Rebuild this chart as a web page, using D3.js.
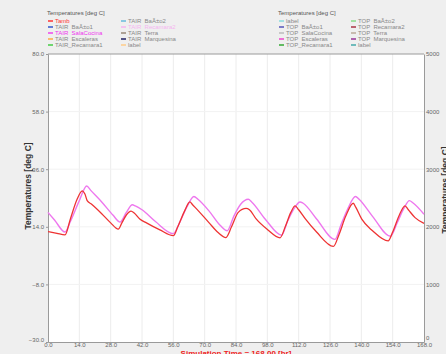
<!DOCTYPE html>
<html>
<head>
<meta charset="utf-8">
<script src="https://cdnjs.cloudflare.com/ajax/libs/d3/7.8.5/d3.min.js"></script>
<style>
  html, body { margin: 0; padding: 0; background: #efefef; }
  svg { display: block; font-family: "Liberation Sans", Arial, sans-serif; }
</style>
</head>
<body>
<div id="chart"></div>
<script>
// Data
var xTicks = [0, 14, 28, 42, 56, 70, 84, 98, 112, 126, 140, 154, 168];
var yTicks = [-30, -8, 14, 36, 58, 80];
var y2Ticks = [0, 1000, 2000, 3000, 4000, 5000];

// Tamb (red)
var tambHours = [0, 4, 7.6, 10, 13, 15.3, 16.5, 17.5, 19.5, 24, 28, 31.4, 33, 35, 37.1, 38.5, 41, 44, 50, 56,
  58, 61, 63.4, 64.5, 67.2, 72, 76, 79.5, 82, 85, 88.5, 90, 93, 98, 103.7, 106, 108.5, 110.4, 112, 115, 120, 127.5,
  130, 133, 136.4, 137.5, 140.2, 145, 152, 154, 157, 159.5, 161, 164, 168];
var tambValues = [12.2, 11.5, 10.9, 17, 24.5, 27.7, 26.5, 24, 22.6, 19, 15.5, 13.1, 15.5, 18.5, 20.0, 19.3, 17, 15.5, 12.8, 10.6,
  14, 20, 23.5, 22.5, 20.1, 15.5, 11.8, 9.9, 14, 19.5, 21, 20.5, 17, 13, 9.8, 14, 19.5, 22, 20.5, 17, 12, 6.5,
  11, 18, 23, 21.5, 16.9, 12.5, 8.6, 12, 18.5, 22, 20.5, 17.5, 15.3];

// TAIR SalaCocina (magenta)
var salaHours = [0, 3, 7.6, 10, 14, 17.3, 19, 24, 29, 32.2, 35, 37.7, 39, 42, 48, 56, 59, 62, 65.2, 67, 72, 77, 80.1,
  83, 86, 89.5, 91, 97, 104.4, 107, 110, 112.6, 114, 120, 128.2, 131, 134, 137.4, 139, 145, 153, 156, 159, 161.5, 163, 168];
var salaValues = [19.5, 16.5, 12, 16, 24, 29.6, 28, 23.5, 18.5, 15.8, 19.5, 22.4, 22, 20.5, 16, 11.4, 16, 21.5, 25.6, 24.5, 20, 14.5, 12.5,
  18, 22.5, 24.5, 23.5, 17, 10.8, 16, 21, 23.5, 23, 17, 9.2, 15, 21, 25.6, 24.5, 18, 10.4, 15.5, 21, 24, 23.2, 18.8];

// legend blocks: names and swatch colours
var leftNames1 = ["Tamb", "TAIR  BaÃ±o1", "TAIR  SalaCocina", "TAIR  Escaleras", "TAIR_Recamara1"];
var leftColors1 = ["#ff3333", "#3355cc", "#ee44ee", "#ffaa44", "#44cc44"];
var leftNames2 = ["TAIR  BaÃ±o2", "TAIR  Recamara2", "TAIR  Terra", "TAIR  Marquesina", "label"];
var leftColors2 = ["#66bbdd", "#f5b5f0", "#998877", "#222266", "#ffcc88"];
var rightNames1 = ["label", "TOP  BaÃ±o1", "TOP  SalaCocina", "TOP  Escaleras", "TOP_Recamara1"];
var rightColors1 = ["#88dddd", "#5555bb", "#bbbbbb", "#ee44cc", "#33aa33"];
var rightNames2 = ["TOP  BaÃ±o2", "TOP  Recamara2", "TOP  Terra", "TOP  Marquesina", "label"];
var rightColors2 = ["#88dd88", "#aa3344", "#bbaa99", "#993399", "#44aaaa"];

var W = 446, H = 354;
var m = {left: 48, right: 424, top: 54, bottom: 342};

var svg = d3.select("#chart").append("svg")
  .attr("width", W).attr("height", H);

svg.append("rect").attr("width", W).attr("height", H).attr("fill", "#efefef");

var x = d3.scaleLinear().domain([0, 168]).range([m.left, m.right]);
var y = d3.scaleLinear().domain([-30, 80]).range([m.bottom, m.top]);
var y2 = d3.scaleLinear().domain([0, 5000]).range([m.bottom, m.top]);

// plot area
svg.append("rect")
  .attr("x", m.left).attr("y", m.top)
  .attr("width", m.right - m.left).attr("height", m.bottom - m.top)
  .attr("fill", "#ffffff");

// grid
svg.append("g").selectAll("line").data(xTicks.slice(1, -1)).enter().append("line")
  .attr("x1", function(d) { return x(d); }).attr("x2", function(d) { return x(d); })
  .attr("y1", m.top).attr("y2", m.bottom)
  .attr("stroke", "#ececec").attr("stroke-width", 1);
svg.append("g").selectAll("line").data(yTicks.slice(1, -1)).enter().append("line")
  .attr("y1", function(d) { return y(d); }).attr("y2", function(d) { return y(d); })
  .attr("x1", m.left).attr("x2", m.right)
  .attr("stroke", "#f2f2f2").attr("stroke-width", 1);

// axes
var fmt = d3.format(".1f");
var gx = svg.append("g").attr("transform", "translate(0," + m.bottom + ")")
  .call(d3.axisBottom(x).tickValues(xTicks).tickFormat(fmt).tickSize(0).tickPadding(1));
var gy = svg.append("g").attr("transform", "translate(" + m.left + ",0)")
  .call(d3.axisLeft(y).tickValues(yTicks).tickFormat(fmt).tickSize(2).tickPadding(2));
var gy2 = svg.append("g").attr("transform", "translate(" + m.right + ",0)")
  .call(d3.axisRight(y2).tickValues(y2Ticks).tickFormat(d3.format("d")).tickSize(0).tickPadding(2));

[gx, gy, gy2].forEach(function(g) {
  g.select(".domain").attr("stroke", "#9a9a9a");
  g.selectAll(".tick line").attr("stroke", "#9a9a9a");
  g.selectAll("text").attr("fill", "#666").style("font-size", "6px");
});
// bottom labels are nudged up so they do not collide with the x labels
gy.selectAll(".tick").filter(function(d) { return d === -30; }).select("text").attr("dy", "-0.1em");
gy2.selectAll(".tick").filter(function(d) { return d === 0; }).select("text").attr("dy", "-0.4em");

// top border
svg.append("line")
  .attr("x1", m.left).attr("x2", m.right).attr("y1", m.top).attr("y2", m.top)
  .attr("stroke", "#9a9a9a");

// axis titles
svg.append("text")
  .attr("transform", "translate(31," + ((m.top + m.bottom) / 2 - 12) + ") rotate(-90)")
  .attr("text-anchor", "middle")
  .style("font-size", "8.5px").style("font-weight", "bold").attr("fill", "#333")
  .text("Temperatures  [deg C]");
svg.append("text")
  .attr("transform", "translate(448," + ((m.top + m.bottom) / 2 - 8) + ") rotate(-90)")
  .attr("text-anchor", "middle")
  .style("font-size", "8.5px").style("font-weight", "bold").attr("fill", "#333")
  .text("Temperatures  [deg C]");
svg.append("text")
  .attr("x", 236).attr("y", 355.5)
  .attr("text-anchor", "middle")
  .style("font-size", "8px").style("font-weight", "bold").attr("fill", "#ee2222")
  .text("Simulation Time = 168.00 [hr]");

// lines
var line = d3.line()
  .x(function(d) { return x(d[0]); })
  .y(function(d) { return y(d[1]); })
  .curve(d3.curveMonotoneX);

svg.append("path")
  .datum(d3.zip(salaHours, salaValues))
  .attr("d", line)
  .attr("fill", "none").attr("stroke", "#ee77ee").attr("stroke-width", 1.4);

svg.append("path")
  .datum(d3.zip(tambHours, tambValues))
  .attr("d", line)
  .attr("fill", "none").attr("stroke", "#ee3333").attr("stroke-width", 1.3);

// legends
function legendBlock(x0, col2x, names1, colors1, names2, colors2, textColors) {
  var g = svg.append("g");
  g.append("text").attr("x", x0 - 1).attr("y", 15)
    .style("font-size", "6px").attr("fill", "#555").text("Temperatures  [deg C]");
  function col(cx, names, colors) {
    names.forEach(function(n, i) {
      var yy = 21 + i * 6;
      g.append("line").attr("x1", cx).attr("x2", cx + 5).attr("y1", yy).attr("y2", yy)
        .attr("stroke", colors[i]).attr("stroke-width", 1.5);
      g.append("text").attr("x", cx + 7).attr("y", yy + 2.2)
        .style("font-size", "6px")
        .attr("fill", textColors[n] || "#888")
        .style("white-space", "pre")
        .text(n);
    });
  }
  col(x0, names1, colors1);
  col(col2x, names2, colors2);
}

legendBlock(48, 121, leftNames1, leftColors1, leftNames2, leftColors2,
  {"Tamb": "#ff3333", "TAIR  SalaCocina": "#ee33ee", "TAIR  Recamara2": "#f5b5f0"});
legendBlock(279, 351, rightNames1, rightColors1, rightNames2, rightColors2, {});
</script>
</body>
</html>
